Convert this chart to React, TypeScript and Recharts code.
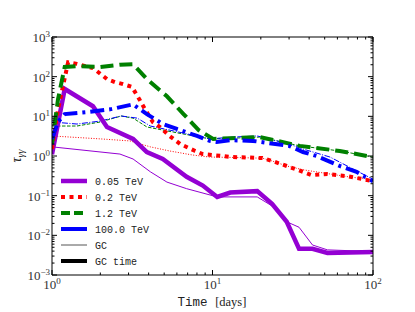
import React from "react";
import { LineChart, Line, XAxis, YAxis, Customized } from "recharts";

// 0.05 TeV
const daysGc005 = [1, 2.65, 3.2, 4.1, 5.2, 6.9, 10.7, 19, 23.5, 29, 34.6, 42, 52, 100];
const tauGc005 = [1.7, 1.12, 0.84, 0.4, 0.22, 0.15, 0.093, 0.093, 0.055, 0.022, 0.016, 0.0057, 0.0043, 0.0039];
const daysGcTime005 = [1, 1.2, 1.8, 2.2, 3.2, 3.9, 4.9, 6.9, 8.7, 10.7, 12.9, 19, 23.5, 29, 34.6, 42, 52, 100];
const tauGcTime005 = [1.1, 49, 18, 5.4, 2.7, 1.26, 0.84, 0.3, 0.18, 0.093, 0.12, 0.13, 0.062, 0.022, 0.0046, 0.0046, 0.0036, 0.0038];

// 0.2 TeV
const daysGc02 = [1, 2.0, 3.06, 4.1, 5.4, 7.5, 9.6, 13.4, 20.5, 23.5, 29, 36.6, 52, 70, 100];
const tauGc02 = [3.2, 2.7, 2.4, 1.7, 1.34, 1.06, 0.94, 0.92, 0.88, 0.75, 0.56, 0.45, 0.36, 0.3, 0.25];
const daysGcTime02 = [1, 1.09, 1.26, 1.43, 1.8, 2.2, 2.47, 2.77, 3.15, 3.5, 3.8, 4.25, 4.7, 5.4, 6.3, 7.8, 8.7, 13.4, 20.5, 23.5, 29, 36.6, 41.5, 52, 69, 87, 100];
const tauGcTime02 = [1.5, 15, 230, 210, 165, 87, 73, 65, 55, 27, 15, 7.2, 5.4, 3.2, 2.0, 1.34, 1.12, 0.94, 0.89, 0.75, 0.56, 0.4, 0.33, 0.35, 0.31, 0.26, 0.23];

// 1.2 TeV
const daysGc12 = [1, 1.43, 2.0, 2.7, 3.2, 3.9, 5.7, 9.6, 12.9, 19.7, 35, 62, 100];
const tauGc12 = [5.7, 5.7, 7.2, 10.2, 9, 5.4, 4, 2.7, 2.8, 3.0, 1.8, 1.34, 0.94];
const daysGcTime12 = [1, 1.09, 1.2, 1.5, 2.0, 2.65, 3.2, 3.9, 5.2, 6.6, 8.2, 10.1, 12.9, 19.7, 35, 62, 100];
const tauGcTime12 = [2.0, 27, 175, 185, 175, 200, 205, 87, 32, 11.4, 4.5, 2.7, 2.8, 3.0, 1.8, 1.34, 0.94];

// 100.0 TeV
const daysGc100 = [1, 1.43, 2.0, 2.7, 3.4, 4.1, 5.7, 9.6, 13.4, 19, 30, 36.6, 54, 75, 100];
const tauGc100 = [7.2, 6.4, 7.6, 10.2, 9, 5.7, 4.3, 2.7, 3.0, 3.2, 2.0, 1.5, 0.94, 0.47, 0.26];
const daysGcTime100 = [1, 1.09, 1.2, 1.65, 2.3, 3.2, 3.9, 4.9, 6.0, 8.0, 9.6, 10.6, 12.9, 17.9, 30, 36.6, 44.6, 62, 79, 100];
const tauGcTime100 = [2.7, 7.2, 11.4, 12.8, 15, 20, 11.4, 6.4, 4.8, 3.2, 2.4, 2.25, 2.5, 2.4, 1.8, 1.26, 1.0, 0.56, 0.4, 0.23];

const xDecades = [1, 10, 100];
const yDecades = [1e-3, 1e-2, 1e-1, 1, 10, 100, 1000];

const legendLabels = ["0.05 TeV", "0.2 TeV", "1.2 TeV", "100.0 TeV", "GC", "GC time"];

const zip = (xs: number[], ys: number[]) => xs.map((x, i) => ({ x, y: ys[i] }));

const withMinor = (decades: number[]) =>
  decades.flatMap((d, i) =>
    i === decades.length - 1 ? [d] : [1, 2, 3, 4, 5, 6, 7, 8, 9].map((k) => +(d * k).toPrecision(6))
  );

const xTicks = withMinor(xDecades);
const yTicks = withMinor(yDecades);

const PURPLE = "#9400D3";
const RED = "#FF0000";
const GREEN = "#008000";
const BLUE = "#0000FF";

const series = [
  { key: "gc005", data: zip(daysGc005, tauGc005), color: PURPLE, width: 1, dash: undefined },
  { key: "gc02", data: zip(daysGc02, tauGc02), color: RED, width: 1, dash: "1 1.6" },
  { key: "gc12", data: zip(daysGc12, tauGc12), color: GREEN, width: 1, dash: "3.5 1.5" },
  { key: "gc100", data: zip(daysGc100, tauGc100), color: BLUE, width: 1, dash: "6 1.5 1 1.5" },
  { key: "t005", data: zip(daysGcTime005, tauGcTime005), color: PURPLE, width: 4.5, dash: undefined },
  { key: "t02", data: zip(daysGcTime02, tauGcTime02), color: RED, width: 4, dash: "4 4.5" },
  { key: "t12", data: zip(daysGcTime12, tauGcTime12), color: GREEN, width: 4, dash: "13 6" },
  { key: "t100", data: zip(daysGcTime100, tauGcTime100), color: BLUE, width: 4, dash: "14 5 3 5" },
];

const isMajor = (v: number) => Math.abs(Math.log10(v) - Math.round(Math.log10(v))) < 1e-6;
const expText = (v: number) => {
  const e = Math.round(Math.log10(v));
  return e < 0 ? "\u2212" + Math.abs(e) : String(e);
};

const SERIF = "'Liberation Serif', 'DejaVu Serif', serif";
const MONO = "'Liberation Mono', 'DejaVu Sans Mono', monospace";
const LABEL = "#333";

const PowLabel = ({ x, y, v, anchor }: any) => (
  <text x={x} y={y} textAnchor={anchor} fontFamily={SERIF} fontSize={13} fill={LABEL}>
    <tspan>10</tspan>
    <tspan dy={-5} fontSize={9}>{expText(v)}</tspan>
  </text>
);

const Tick = (props: any) => {
  const { x, y, payload, side } = props;
  const v = payload.value;
  const major = isMajor(v);
  const len = major ? 5 : 2.5;
  let line;
  if (side === "bottom") line = <line x1={x} x2={x} y1={y} y2={y - len} stroke="#000" />;
  else if (side === "top") line = <line x1={x} x2={x} y1={y} y2={y + len} stroke="#000" />;
  else if (side === "left") line = <line x1={x} x2={x + len} y1={y} y2={y} stroke="#000" />;
  else line = <line x1={x} x2={x - len} y1={y} y2={y} stroke="#000" />;
  return (
    <g>
      {line}
      {major && side === "bottom" && <PowLabel x={x} y={y + 14} v={v} anchor="middle" />}
      {major && side === "left" && <PowLabel x={x - 2} y={y + 5} v={v} anchor="end" />}
    </g>
  );
};

const legendStyles = [
  { color: PURPLE, width: 4.5, dash: undefined },
  { color: RED, width: 4, dash: "4 4.5" },
  { color: GREEN, width: 4, dash: "9 4" },
  { color: BLUE, width: 4, dash: undefined },
  { color: "#555", width: 1, dash: undefined },
  { color: "#000", width: 4, dash: undefined },
];

const Overlay = () => (
  <g>
    {legendLabels.map((label, i) => {
      const cy = 181 + i * 16;
      const s = legendStyles[i];
      return (
        <g key={label}>
          <line x1={61} x2={87} y1={cy} y2={cy} stroke={s.color} strokeWidth={s.width} strokeDasharray={s.dash} />
          <text x={95} y={cy + 4} fontFamily={MONO} fontSize={10} fill="#222">
            {label}
          </text>
        </g>
      );
    })}
    <text x={212} y={306} textAnchor="middle" fontSize={12.5} fill="#222">
      <tspan fontFamily={MONO}>Time </tspan>
      <tspan fontFamily={SERIF}>[days]</tspan>
    </text>
    <text
      x={0}
      y={0}
      transform="translate(21,156) rotate(-90)"
      textAnchor="middle"
      fontFamily={SERIF}
      fontStyle="italic"
      fontSize={14}
      fill="#222"
    >
      <tspan>τ</tspan>
      <tspan dy={3} fontSize={10}>γγ</tspan>
    </text>
  </g>
);

export default function App() {
  return (
    <div style={{ position: "absolute", left: 0, top: 0, background: "#fff" }}>
      <LineChart width={415} height={312} margin={{ top: 36, right: 41, bottom: 7, left: 12 }}>
        <XAxis
          xAxisId="b"
          type="number"
          dataKey="x"
          scale="log"
          domain={[1, 100]}
          allowDataOverflow
          ticks={xTicks}
          interval={0}
          height={30}
          tickSize={0}
          tickMargin={0}
          tickLine={false}
          axisLine={{ stroke: "#000" }}
          tick={(p: any) => <Tick {...p} side="bottom" />}
        />
        <XAxis
          xAxisId="t"
          orientation="top"
          type="number"
          dataKey="x"
          scale="log"
          domain={[1, 100]}
          allowDataOverflow
          ticks={xTicks}
          interval={0}
          height={1}
          tickSize={0}
          tickMargin={0}
          tickLine={false}
          axisLine={{ stroke: "#000" }}
          tick={(p: any) => <Tick {...p} side="top" />}
        />
        <YAxis
          yAxisId="l"
          type="number"
          scale="log"
          domain={[1e-3, 1e3]}
          allowDataOverflow
          ticks={yTicks}
          interval={0}
          width={40}
          tickSize={0}
          tickMargin={0}
          tickLine={false}
          axisLine={{ stroke: "#000" }}
          tick={(p: any) => <Tick {...p} side="left" />}
        />
        <YAxis
          yAxisId="r"
          orientation="right"
          type="number"
          scale="log"
          domain={[1e-3, 1e3]}
          allowDataOverflow
          ticks={yTicks}
          interval={0}
          width={1}
          tickSize={0}
          tickMargin={0}
          tickLine={false}
          axisLine={{ stroke: "#000" }}
          tick={(p: any) => <Tick {...p} side="right" />}
        />
        {series.map((s) => (
          <Line
            key={s.key}
            xAxisId="b"
            yAxisId="l"
            data={s.data}
            dataKey="y"
            type="linear"
            stroke={s.color}
            strokeWidth={s.width}
            strokeDasharray={s.dash}
            dot={false}
            activeDot={false}
            isAnimationActive={false}
          />
        ))}
        <Customized component={Overlay} />
      </LineChart>
    </div>
  );
}
